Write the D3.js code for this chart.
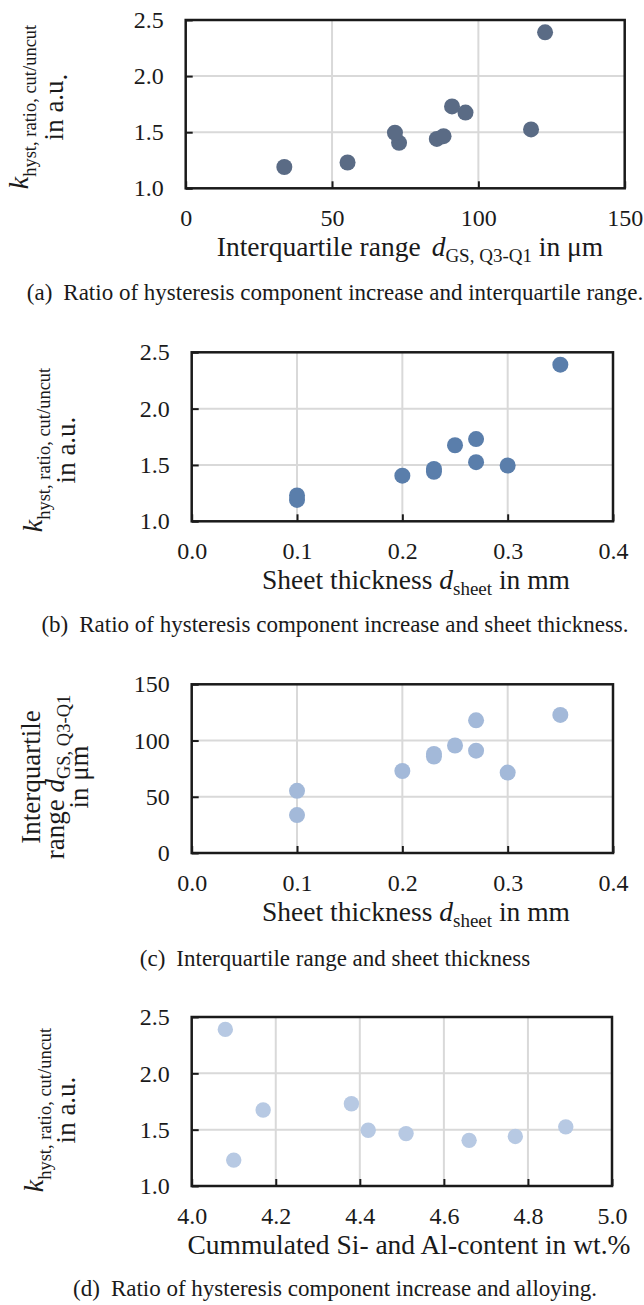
<!DOCTYPE html>
<html><head><meta charset="utf-8">
<script src="https://cdn.jsdelivr.net/npm/d3@7"></script>
<style>
html,body{margin:0;padding:0;background:#fff;}
svg{display:block;font-family:"Liberation Serif","Times New Roman",Times,serif;}
</style>
</head><body>
<svg id="chart" width="644" height="1305"></svg>
<script>
// ---- data: ten samples (same order in every array) ----
const sheetThickness     = [0.10, 0.10, 0.20, 0.23, 0.23, 0.25, 0.27, 0.27, 0.30, 0.35];
const interquartileRange = [33.7, 55.3, 72.9, 85.8, 88.1, 95.6, 91.0, 118.0, 71.5, 122.8];
const kHystRatio         = [1.19, 1.23, 1.405, 1.44, 1.465, 1.675, 1.73, 1.525, 1.495, 2.39];
const alloyContent       = [null, 4.10, 4.66, 4.77, 4.51, 4.17, 4.38, 4.89, 4.42, 4.08];

// ---- tick labels ----
const kTicks     = [1.0, 1.5, 2.0, 2.5];
const iqrTicks   = [0, 50, 100, 150];
const thickTicks = [0.0, 0.1, 0.2, 0.3, 0.4];
const alloyTicks = [4.0, 4.2, 4.4, 4.6, 4.8, 5.0];

const captions = [
  "Ratio of hysteresis component increase and interquartile range.",
  "Ratio of hysteresis component increase and sheet thickness.",
  "Interquartile range and sheet thickness",
  "Ratio of hysteresis component increase and alloying."
];
const captionTags = ["(a)", "(b)", "(c)", "(d)"];

const svg = d3.select("#chart");

const kTitle = (x1, x2, lastDot) => [
  {x: x1, segs: [{t: "k", italic: true, size: 28}, {t: "hyst, ratio, cut/uncut", size: 18.5, dy: 8}]},
  {x: x2, segs: lastDot ? [{t: "in a.u", size: 27}, {t: ".", size: 27, dy: 4}] : [{t: "in a.u.", size: 27}]}
];

const panels = [
  { x: interquartileRange, y: kHystRatio, xTicks: iqrTicks, yTicks: kTicks,
    xFmt: d3.format("d"), yFmt: d3.format(".1f"),
    left: 185.7, right: 624.7, top: 20, bottom: 188.3,
    color: "#5a6b85", r: 8,
    xTitle: [{t: "Interquartile range"}, {t: "d", italic: true, dx: 11}, {t: "GS, Q3-Q1", size: 19, dy: 6}, {t: " in μm", dy: -6}],
    xTitleX: 410,
    yTitle: kTitle(28, 63, true), yTitleCy: 107,
    capY: 300 },
  { x: sheetThickness, y: kHystRatio, xTicks: thickTicks, yTicks: kTicks,
    xFmt: d3.format(".1f"), yFmt: d3.format(".1f"),
    left: 191.7, right: 613, top: 352.3, bottom: 521.3,
    color: "#5a7eab", r: 8,
    xTitle: [{t: "Sheet thickness "}, {t: "d", italic: true}, {t: "sheet", size: 19, dy: 6}, {t: " in mm", dy: -6}],
    xTitleX: 416,
    yTitle: kTitle(42, 75, false), yTitleCy: 450,
    capY: 632 },
  { x: sheetThickness, y: interquartileRange, xTicks: thickTicks, yTicks: iqrTicks,
    xFmt: d3.format(".1f"), yFmt: d3.format("d"),
    left: 191.7, right: 613, top: 684.3, bottom: 853,
    color: "#a3b9d9", r: 8,
    xTitle: [{t: "Sheet thickness "}, {t: "d", italic: true}, {t: "sheet", size: 19, dy: 6}, {t: " in mm", dy: -6}],
    xTitleX: 416,
    yTitle: [
      {x: 40, segs: [{t: "Interquartile", size: 27}]},
      {x: 64, segs: [{t: "range ", size: 27}, {t: "d", italic: true, size: 27}, {t: "GS, Q3-Q1", size: 18.5, dy: 6}]},
      {x: 88, segs: [{t: "in μm", size: 27}]}
    ], yTitleCy: 777,
    capY: 966 },
  { x: alloyContent, y: kHystRatio, xTicks: alloyTicks, yTicks: kTicks,
    xFmt: d3.format(".1f"), yFmt: d3.format(".1f"),
    left: 191.7, right: 612, top: 1017, bottom: 1186,
    color: "#b7c9e3", r: 7.7,
    xTitle: [{t: "Cummulated Si- and Al-content in wt.%"}],
    xTitleX: 409,
    yTitle: kTitle(43, 75, false), yTitleCy: 1110,
    capY: 1296 }
];

panels.forEach((p, i) => {
  const xs = d3.scaleLinear().domain(d3.extent(p.xTicks)).range([p.left, p.right]);
  const ys = d3.scaleLinear().domain(d3.extent(p.yTicks)).range([p.bottom, p.top]);
  const g = svg.append("g");

  // gridlines
  g.append("g").selectAll("line").data(p.yTicks.slice(1, -1)).join("line")
    .attr("x1", p.left).attr("x2", p.right)
    .attr("y1", d => ys(d)).attr("y2", d => ys(d))
    .attr("stroke", "#d9d9d9").attr("stroke-width", 2);
  g.append("g").selectAll("line").data(p.xTicks.slice(1, -1)).join("line")
    .attr("y1", p.top).attr("y2", p.bottom)
    .attr("x1", d => xs(d)).attr("x2", d => xs(d))
    .attr("stroke", "#d9d9d9").attr("stroke-width", 2);

  // points
  const pts = p.x.map((v, j) => ({x: v, y: p.y[j]})).filter(d => d.x != null && d.y != null);
  g.append("g").selectAll("circle").data(pts).join("circle")
    .attr("cx", d => xs(d.x)).attr("cy", d => ys(d.y)).attr("r", p.r)
    .attr("fill", p.color);

  // frame
  g.append("rect").attr("x", p.left).attr("y", p.top)
    .attr("width", p.right - p.left).attr("height", p.bottom - p.top)
    .attr("fill", "none").attr("stroke", "#1a1a1a").attr("stroke-width", 2.5);

  // axes
  const ya = g.append("g").attr("transform", `translate(${p.left},0)`)
    .call(d3.axisLeft(ys).tickValues(p.yTicks).tickFormat(p.yFmt).tickSizeInner(-7).tickSizeOuter(0).tickPadding(22));
  const xa = g.append("g").attr("transform", `translate(0,${p.bottom})`)
    .call(d3.axisBottom(xs).tickValues(p.xTicks).tickFormat(p.xFmt).tickSizeInner(-7).tickSizeOuter(0).tickPadding(21));
  [ya, xa].forEach(a => {
    a.select(".domain").remove();
    a.attr("font-family", null).attr("font-size", 24);
    a.selectAll("line").attr("stroke", "#1a1a1a").attr("stroke-width", 2);
    a.selectAll("text").attr("fill", "#1a1a1a");
  });

  // x title
  const xt = g.append("text").attr("x", p.xTitleX).attr("y", p.bottom + 68)
    .attr("text-anchor", "middle").attr("font-size", 27.5).attr("fill", "#1a1a1a");
  p.xTitle.forEach(s => {
    const ts = xt.append("tspan").text(s.t);
    if (s.italic) ts.attr("font-style", "italic");
    if (s.size) ts.attr("font-size", s.size);
    if (s.dy) ts.attr("dy", s.dy);
    if (s.dx) ts.attr("dx", s.dx);
  });

  // y title
  p.yTitle.forEach(line => {
    const t = g.append("text")
      .attr("transform", `translate(${line.x},${p.yTitleCy}) rotate(-90)`)
      .attr("text-anchor", "middle").attr("fill", "#1a1a1a");
    line.segs.forEach(s => {
      const ts = t.append("tspan").text(s.t).attr("font-size", s.size);
      if (s.italic) ts.attr("font-style", "italic");
      if (s.dy) ts.attr("dy", s.dy);
    });
  });

  // caption
  const c = svg.append("text").attr("x", 335).attr("y", p.capY)
    .attr("text-anchor", "middle").attr("font-size", 23).attr("fill", "#1a1a1a");
  c.append("tspan").text(captionTags[i]);
  c.append("tspan").attr("dx", 11).text(captions[i]);
});
</script>
</body></html>
